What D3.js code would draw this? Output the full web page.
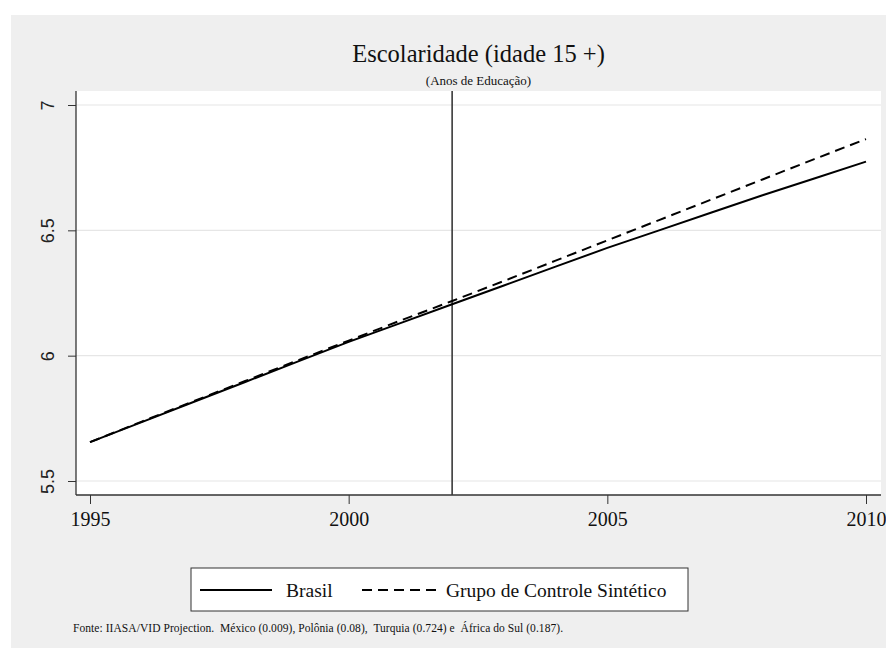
<!DOCTYPE html>
<html>
<head>
<meta charset="utf-8">
<script src="https://cdn.jsdelivr.net/npm/d3@7"></script>
<style>
  html, body { margin: 0; padding: 0; background: #ffffff; }
  svg { display: block; }
  .serif { font-family: "Liberation Serif", "Times New Roman", "DejaVu Serif", serif; }
  .sans { font-family: "Liberation Sans", "DejaVu Sans", sans-serif; }
</style>
</head>
<body>
<script>
const years = [1995, 1996, 1997, 1998, 1999, 2000, 2001, 2002, 2003, 2004, 2005, 2006, 2007, 2008, 2009, 2010];
const brasil = [5.655, 5.735, 5.815, 5.895, 5.975, 6.055, 6.130, 6.205, 6.280, 6.355, 6.430, 6.500, 6.570, 6.640, 6.707, 6.774];
const sintetico = [5.655, 5.737, 5.818, 5.899, 5.980, 6.060, 6.140, 6.218, 6.298, 6.379, 6.460, 6.541, 6.622, 6.703, 6.784, 6.864];
const xTicks = [1995, 2000, 2005, 2010];
const yTicks = [5.5, 6, 6.5, 7];
const treatmentYear = 2002;
const seriesNames = ["Brasil", "Grupo de Controle Sintético"];
const titleText = "Escolaridade (idade 15 +)";
const subtitleText = "(Anos de Educação)";
const noteText = "Fonte: IIASA/VID Projection.  México (0.009), Polônia (0.08),  Turquia (0.724) e  África do Sul (0.187).";

const W = 886, H = 651;
const plot = { left: 76, right: 881, top: 91, bottom: 495 };

const svg = d3.select("body").append("svg").attr("width", W).attr("height", H);

svg.append("rect").attr("x", 11).attr("y", 15).attr("width", W - 11).attr("height", 633).attr("fill", "#efefef");
svg.append("rect").attr("x", plot.left).attr("y", plot.top)
  .attr("width", plot.right - plot.left).attr("height", plot.bottom - plot.top).attr("fill", "#ffffff");

const x = d3.scaleLinear().domain([1995, 2010]).range([90, 866]);
const y = d3.scaleLinear().domain([5.5, 7]).range([481, 105]);

svg.append("g").selectAll("line").data(yTicks).join("line")
  .attr("x1", plot.left).attr("x2", plot.right)
  .attr("y1", d => y(d)).attr("y2", d => y(d))
  .attr("stroke", "#e6e6e6").attr("stroke-width", 1.2);

const yAxis = svg.append("g").attr("transform", `translate(${plot.left},0)`)
  .call(d3.axisLeft(y).tickValues(yTicks).tickFormat(d3.format("")).tickSize(8).tickSizeOuter(0));
yAxis.attr("font-family", null).attr("font-size", null);
yAxis.select(".domain").remove();
yAxis.selectAll(".tick line").attr("stroke", "#333").attr("stroke-width", 1);
yAxis.selectAll(".tick text")
  .attr("class", "sans").attr("font-size", 18).attr("fill", "#222")
  .attr("transform", "rotate(-90)")
  .attr("x", 0).attr("dx", 0).attr("y", -22).attr("dy", 0)
  .attr("text-anchor", "middle");
svg.append("line").attr("x1", plot.left).attr("x2", plot.left)
  .attr("y1", plot.top).attr("y2", plot.bottom).attr("stroke", "#333").attr("stroke-width", 1.3);

const xAxis = svg.append("g").attr("transform", `translate(0,${plot.bottom})`)
  .call(d3.axisBottom(x).tickValues(xTicks).tickFormat(d3.format("d")).tickSize(9).tickSizeOuter(0));
xAxis.attr("font-family", null).attr("font-size", null);
xAxis.select(".domain").remove();
xAxis.selectAll(".tick line").attr("stroke", "#333").attr("stroke-width", 1);
xAxis.selectAll(".tick text")
  .attr("class", "serif").attr("font-size", 20).attr("fill", "#111")
  .attr("y", 17).attr("dy", "0.71em");
svg.append("line").attr("x1", plot.left).attr("x2", plot.right)
  .attr("y1", plot.bottom).attr("y2", plot.bottom).attr("stroke", "#333").attr("stroke-width", 1.3);

svg.append("line").attr("x1", x(treatmentYear)).attr("x2", x(treatmentYear))
  .attr("y1", plot.top).attr("y2", plot.bottom).attr("stroke", "#3a3a3a").attr("stroke-width", 1.6);

const line = d3.line().x((d, i) => x(years[i])).y(d => y(d));
svg.append("path").datum(sintetico).attr("d", line)
  .attr("fill", "none").attr("stroke", "#000").attr("stroke-width", 2).attr("stroke-dasharray", "10,6");
svg.append("path").datum(brasil).attr("d", line)
  .attr("fill", "none").attr("stroke", "#000").attr("stroke-width", 2);

svg.append("text").attr("class", "serif").attr("x", (plot.left + plot.right) / 2).attr("y", 62)
  .attr("text-anchor", "middle").attr("font-size", 24.5).attr("fill", "#111").text(titleText);
svg.append("text").attr("class", "serif").attr("x", (plot.left + plot.right) / 2).attr("y", 85)
  .attr("text-anchor", "middle").attr("font-size", 13).attr("fill", "#111").text(subtitleText);

const lg = svg.append("g");
lg.append("rect").attr("x", 191).attr("y", 568).attr("width", 497).attr("height", 43)
  .attr("fill", "#fff").attr("stroke", "#333").attr("stroke-width", 1);
lg.append("line").attr("x1", 200).attr("x2", 272).attr("y1", 590).attr("y2", 590)
  .attr("stroke", "#000").attr("stroke-width", 2);
lg.append("text").attr("class", "serif").attr("x", 286).attr("y", 597)
  .attr("font-size", 19.5).attr("fill", "#111").text(seriesNames[0]);
lg.append("line").attr("x1", 362).attr("x2", 436).attr("y1", 590).attr("y2", 590)
  .attr("stroke", "#000").attr("stroke-width", 2).attr("stroke-dasharray", "10,6");
lg.append("text").attr("class", "serif").attr("x", 446).attr("y", 597)
  .attr("font-size", 19.5).attr("fill", "#111").text(seriesNames[1]);

svg.append("text").attr("class", "serif").attr("x", 73).attr("y", 632)
  .attr("font-size", 11.5).attr("fill", "#111").style("white-space", "pre")
  .attr("textLength", 490).attr("lengthAdjust", "spacing")
  .text(noteText);
</script>
</body>
</html>
